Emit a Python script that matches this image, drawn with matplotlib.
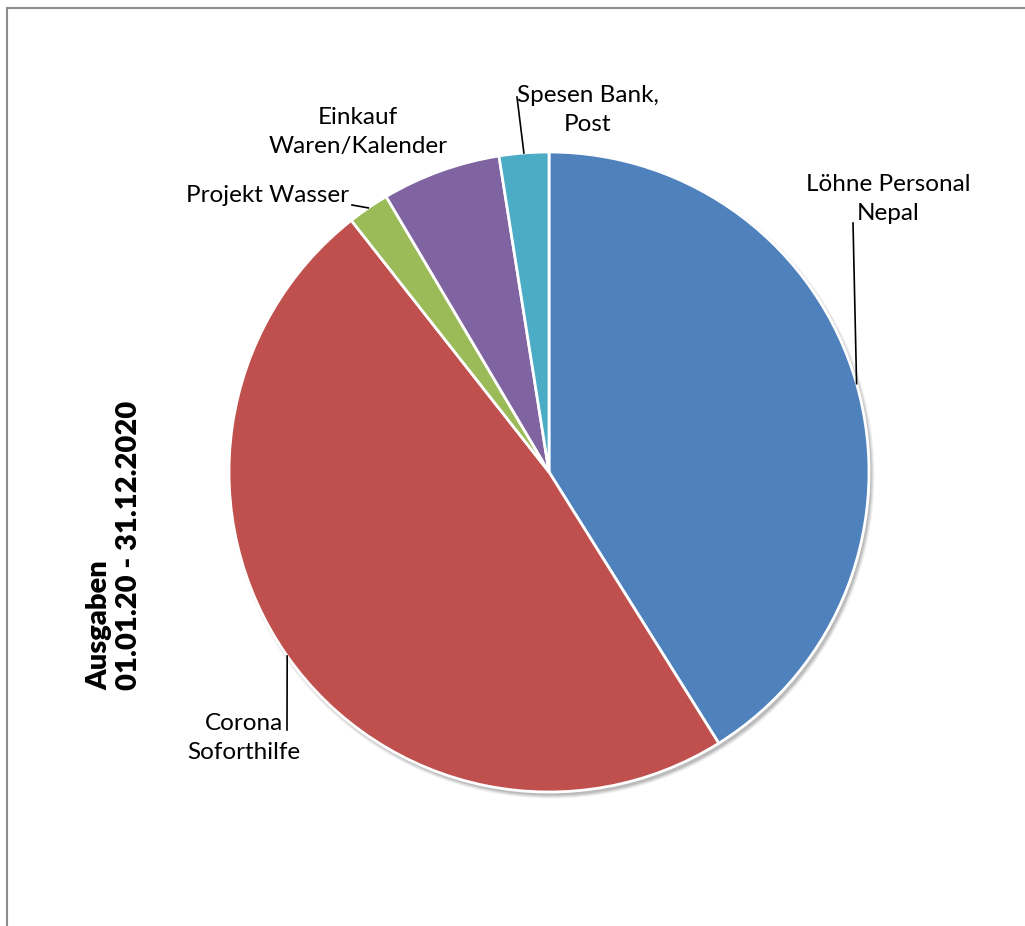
import numpy as np
import matplotlib.pyplot as plt
from matplotlib.patches import Circle, Rectangle

# Ausgaben 2020, shares in percent
labels = ["Löhne Personal\nNepal", "Corona\nSoforthilfe", "Projekt Wasser",
          "Einkauf\nWaren/Kalender", "Spesen Bank,\nPost"]
values = [41.1, 48.3, 2.1, 6.0, 2.5]
colors = ["#4F81BD", "#C0504D", "#9BBB59", "#8064A2", "#4BACC6"]

W, H = 1025, 926
plt.rcParams['font.family'] = ['Lato', 'DejaVu Sans']

fig = plt.figure(figsize=(W / 100, H / 100), dpi=100)
ax = fig.add_axes([0, 0, 1, 1])

cx, cy, r = 549, H - 472, 320

# soft shadow under the pie
for k, a in enumerate([0.05, 0.06, 0.08, 0.10]):
    ax.add_patch(Circle((cx + 2.5, cy - 3.5), r + 3 - k, color='black',
                        alpha=a, lw=0, zorder=1))

wedges, _ = ax.pie(values, colors=colors, startangle=90, counterclock=False,
                   center=(cx, cy), radius=r, frame=True,
                   wedgeprops=dict(edgecolor='white', linewidth=2))
for w in wedges:
    w.set_zorder(2)
ax.set_xlim(0, W)
ax.set_ylim(0, H)
ax.axis('off')

# label layout: text centre, line end (image coords), alignment
label_pos = [(888, 199, 'center'), (244, 738, 'center'), (349, 196, 'right'),
             (358, 132, 'center'), (588, 110, 'center')]
line_end = [(853, 223), (287, 730), (352, 205), None, (517, 97)]

for w, lab, (tx, ty, ha), le in zip(wedges, labels, label_pos, line_end):
    mid = np.deg2rad((w.theta1 + w.theta2) / 2)
    ex, ey = cx + r * np.cos(mid), cy + r * np.sin(mid)
    if le is not None:
        ax.plot([ex, le[0]], [ey, H - le[1]], color='black', lw=1.2, zorder=3)
    ax.text(tx, H - ty, lab, ha=ha, va='center', fontsize=17.5,
            linespacing=1.45, multialignment='center', zorder=4)

ax.text(114, H - 545, "Ausgaben\n01.01.20 - 31.12.2020", rotation=90,
        ha='center', va='center', fontsize=21, fontweight='heavy',
        multialignment='left', linespacing=1.2)

# chart frame (runs off the right and bottom edge)
ax.add_patch(Rectangle((7, -20), W + 40, H - 8 + 20, fill=False,
                       edgecolor='#8c8c8c', lw=1.5, zorder=5))

fig.savefig("out.png", dpi=100)
